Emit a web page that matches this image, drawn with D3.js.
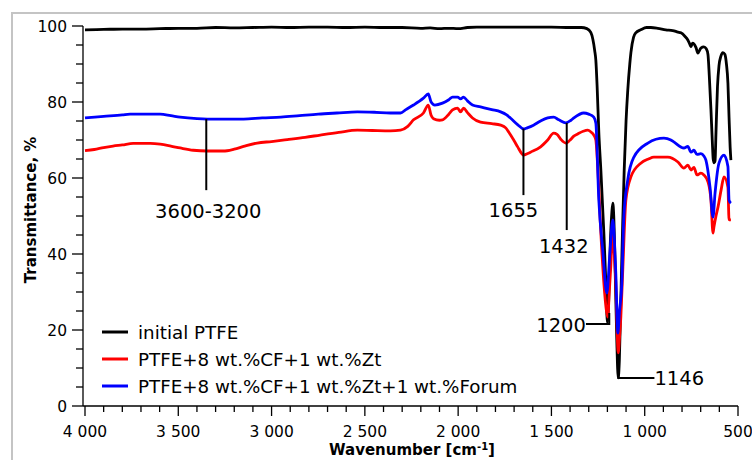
<!DOCTYPE html>
<html><head><meta charset="utf-8">
<script src="https://cdn.jsdelivr.net/npm/d3@7"></script>
<style>body{margin:0;background:#fff}svg{display:block}text{font-family:"DejaVu Sans",Verdana,sans-serif;fill:#000}</style>
</head><body>
<svg id="c" width="752" height="460"></svg>
<script>
// ---- data ----
const seriesNames = ["initial PTFE", "PTFE+8 wt.%CF+1 wt.%Zt", "PTFE+8 wt.%CF+1 wt.%Zt+1 wt.%Forum"];
const seriesColors = ["#000000", "#ff0000", "#0000ff"];
const xTickValues = [4000, 3500, 3000, 2500, 2000, 1500, 1000, 500];
const xTickLabels = ["4 000", "3 500", "3 000", "2 500", "2 000", "1 500", "1 000", "500"];
const yTickValues = [0, 20, 40, 60, 80, 100];
const yTickLabels = ["0", "20", "40", "60", "80", "100"];

const blackData = [[4000,99.0],[3900,99.1],[3800,99.2],[3700,99.2],[3600,99.3],[3500,99.4],[3400,99.4],[3300,99.6],[3200,99.5],[3100,99.6],[3000,99.7],[2900,99.6],[2800,99.7],[2700,99.7],[2600,99.6],[2500,99.7],[2400,99.6],[2300,99.6],[2200,99.4],[2150,99.5],[2100,99.3],[2050,99.4],[2000,99.3],[1950,99.6],[1900,99.7],[1800,99.7],[1700,99.7],[1600,99.7],[1500,99.7],[1400,99.6],[1340,99.6],[1310,99.3],[1289,98.3],[1278,96.5],[1268,93.5],[1262,91],[1255,84],[1246,72],[1235,62],[1219,45.5],[1208,32],[1200,22],[1193,28],[1185,42],[1176,51],[1171,53.4],[1166,50],[1158,35],[1150,18],[1142,7.4],[1136,12],[1128,28],[1118,48],[1110,62],[1100,75],[1091,83],[1080,90],[1074,93],[1060,97],[1048,98.2],[1021,99],[990,99.6],[967,99.6],[930,99.4],[887,99],[850,98.8],[822,98.4],[806,98.2],[785,97.3],[769,96.3],[760,95.4],[752,94.5],[744,95.5],[736,95.3],[725,94.3],[715,92.9],[699,94.2],[683,94.5],[670,94],[661,92.5],[654,87],[645,78],[638,70],[633,65],[628,64],[623,64.5],[618,72],[610,84],[602,89.5],[592,92],[581,93],[570,92.5],[562,90],[554,85],[548,76],[542,68],[538,64.7]];

const redData = [[4000,67.2],[3950,67.5],[3900,68],[3850,68.4],[3800,68.7],[3742,69.1],[3650,69.1],[3597,68.9],[3540,68.4],[3490,67.9],[3420,67.3],[3345,67.1],[3259,67.1],[3200,67.6],[3150,68.3],[3077,69.2],[3000,69.6],[2916,70.1],[2820,70.7],[2739,71.3],[2640,72.0],[2540,72.6],[2460,72.5],[2363,72.4],[2309,72.6],[2270,73.6],[2239,75.3],[2186,77.1],[2160,79.2],[2145,76.5],[2132,75.6],[2100,75.2],[2084,75.3],[2050,76.8],[2030,77.9],[2003,78.4],[1987,77.4],[1971,78.4],[1950,77.2],[1923,75.8],[1880,74.7],[1820,74.3],[1772,73.9],[1745,73.2],[1729,72.1],[1700,69.8],[1681,68.2],[1660,66.5],[1649,66],[1630,66.4],[1612,66.8],[1558,68.2],[1520,70],[1488,71.8],[1470,71.5],[1450,70.2],[1423,69.2],[1400,70],[1380,71],[1359,71.6],[1330,72.3],[1305,72.6],[1285,72.0],[1273,71.3],[1262,70],[1252,63],[1235,45.5],[1219,32.4],[1205,25],[1198,23.4],[1190,30],[1182,36.6],[1171,47.1],[1163,40],[1155,32.4],[1148,20],[1142,14],[1135,18],[1128,23.4],[1117,36.6],[1101,54.2],[1074,60.3],[1021,63.9],[980,65],[951,65.5],[876,65.5],[822,64.2],[790,62.6],[769,63.4],[752,62.1],[736,62.8],[720,60.8],[699,61.3],[683,60.8],[661,59],[645,54.2],[634,45.5],[629,47.1],[618,50],[607,52.4],[590,57],[575,60.3],[554,57.6],[548,49],[538,49]];

const blueData = [[4000,75.8],[3900,76.2],[3800,76.6],[3758,76.8],[3650,76.8],[3597,76.8],[3540,76.4],[3490,76],[3400,75.6],[3345,75.5],[3250,75.5],[3150,75.5],[3050,75.8],[2950,76],[2850,76.4],[2750,76.8],[2650,77.1],[2540,77.4],[2450,77.3],[2363,77.1],[2309,77.1],[2280,78],[2239,79.2],[2186,81],[2160,82.1],[2145,80],[2125,79.2],[2084,79.7],[2050,80.6],[2030,81.3],[2003,81.3],[1987,80.8],[1971,81.3],[1950,80.3],[1923,79.2],[1880,78.7],[1820,78],[1772,77.4],[1740,76.6],[1720,75.8],[1680,74],[1649,72.9],[1630,73.2],[1596,73.9],[1558,75],[1520,75.8],[1488,76],[1460,75.3],[1423,74.5],[1395,75.2],[1380,75.8],[1327,77.1],[1300,76.8],[1273,76],[1262,74.5],[1246,54.2],[1225,41],[1203,29.7],[1187,40],[1171,49],[1163,44],[1155,35],[1144,19.2],[1135,25],[1123,32],[1112,49.7],[1091,59.5],[1058,65.5],[983,69.2],[940,70.2],[897,70.5],[860,70],[844,69.5],[790,67.9],[769,68.3],[752,66.8],[736,67.3],[720,66.2],[699,66.4],[683,65.8],[672,64.7],[650,57.6],[634,49.7],[623,56],[602,63.9],[575,66],[554,63],[548,54.2],[538,53.4]];

const annoLabels = ["3600-3200", "1655", "1432", "1200", "1146"];

// ---- layout ----
const svg = d3.select("#c");
const x = d3.scaleLinear().domain([4000, 500]).range([85, 738]);
const y = d3.scaleLinear().domain([0, 100]).range([406, 26]);

// frame
svg.append("rect").attr("x", 12).attr("y", 13).attr("width", 760).attr("height", 470)
  .attr("fill", "none").attr("stroke", "#c4c4c4").attr("stroke-width", 2);

// y axis
const yAxisX = 83;
const gy = svg.append("g");
gy.append("line").attr("x1", yAxisX).attr("x2", yAxisX).attr("y1", y(100)).attr("y2", y(0)).attr("stroke", "#000").attr("stroke-width", 1.3);
d3.range(0, 101, 5).forEach(v => {
  const major = v % 20 === 0;
  gy.append("line").attr("x1", yAxisX - (major ? 11 : 7)).attr("x2", yAxisX)
    .attr("y1", y(v)).attr("y2", y(v)).attr("stroke", "#000").attr("stroke-width", 1.3);
});
yTickValues.forEach((v, i) => {
  gy.append("text").attr("x", 67).attr("y", y(v)).attr("dy", "0.36em")
    .attr("text-anchor", "end").attr("font-size", 15.5).text(yTickLabels[i]);
});

// x axis
const xAxisY = y(0);
const gx = svg.append("g");
gx.append("line").attr("x1", yAxisX).attr("x2", x(500)).attr("y1", xAxisY).attr("y2", xAxisY).attr("stroke", "#000").attr("stroke-width", 1.3);
d3.range(4000, 499, -100).forEach(v => {
  const major = v % 500 === 0;
  gx.append("line").attr("x1", x(v)).attr("x2", x(v)).attr("y1", xAxisY).attr("y2", xAxisY + (major ? 10 : 6))
    .attr("stroke", "#000").attr("stroke-width", 1.3);
});
xTickValues.forEach((v, i) => {
  gx.append("text").attr("x", x(v)).attr("y", 437).attr("text-anchor", "middle")
    .attr("font-size", 15.5).text(xTickLabels[i]);
});

// axis titles
svg.append("text").attr("x", 412).attr("y", 455).attr("text-anchor", "middle")
  .attr("font-size", 15).attr("font-weight", "bold")
  .html('Wavenumber [cm<tspan dy="-5" font-size="10">-1</tspan><tspan dy="5">]</tspan>');
svg.append("text").attr("transform", "translate(36,210) rotate(-90)").attr("text-anchor", "middle")
  .attr("font-size", 15).attr("font-weight", "bold").text("Transmittance, %");

// spectra
const line = d3.line().x(d => x(d[0])).y(d => y(d[1])).curve(d3.curveMonotoneX);
[blackData, redData, blueData].forEach((data, i) => {
  svg.append("path").datum(data).attr("d", line).attr("fill", "none")
    .attr("stroke", seriesColors[i]).attr("stroke-width", 2.8).attr("stroke-linejoin", "round");
});

// annotations
const ann = svg.append("g").attr("stroke", "#000").attr("stroke-width", 2).attr("fill", "none");
const af = 19.5;
ann.append("line").attr("x1", x(3350)).attr("x2", x(3350)).attr("y1", y(75.5)).attr("y2", y(56.8));
svg.append("text").attr("x", x(3350) + 2).attr("y", 218).attr("text-anchor", "middle").attr("font-size", af).text(annoLabels[0]);
ann.append("line").attr("x1", x(1650)).attr("x2", x(1650)).attr("y1", y(73)).attr("y2", y(55.5));
svg.append("text").attr("x", x(1650) - 10).attr("y", 217).attr("text-anchor", "middle").attr("font-size", af).text(annoLabels[1]);
ann.append("line").attr("x1", x(1418)).attr("x2", x(1418)).attr("y1", y(74.5)).attr("y2", y(46.3));
svg.append("text").attr("x", x(1418) - 3).attr("y", 253).attr("text-anchor", "middle").attr("font-size", af).text(annoLabels[2]);
ann.append("path").attr("d", `M${x(1315)},${y(21.6)}H${x(1190)}V${y(24.5)}`);
svg.append("text").attr("x", x(1315)).attr("y", 332).attr("text-anchor", "end").attr("font-size", af).text(annoLabels[3]);
ann.append("path").attr("d", `M${x(1141)},${y(13.4)}V${y(7.4)}H${x(948)}`);
svg.append("text").attr("x", x(948)).attr("y", 385).attr("text-anchor", "start").attr("font-size", af).text(annoLabels[4]);

// legend
const legY = [332, 359, 386];
seriesNames.forEach((n, i) => {
  svg.append("line").attr("x1", 102).attr("x2", 128).attr("y1", legY[i]).attr("y2", legY[i])
    .attr("stroke", seriesColors[i]).attr("stroke-width", 3);
  svg.append("text").attr("x", 138).attr("y", legY[i]).attr("dy", "0.36em").attr("font-size", 18.3).text(n);
});
</script>
</body></html>
